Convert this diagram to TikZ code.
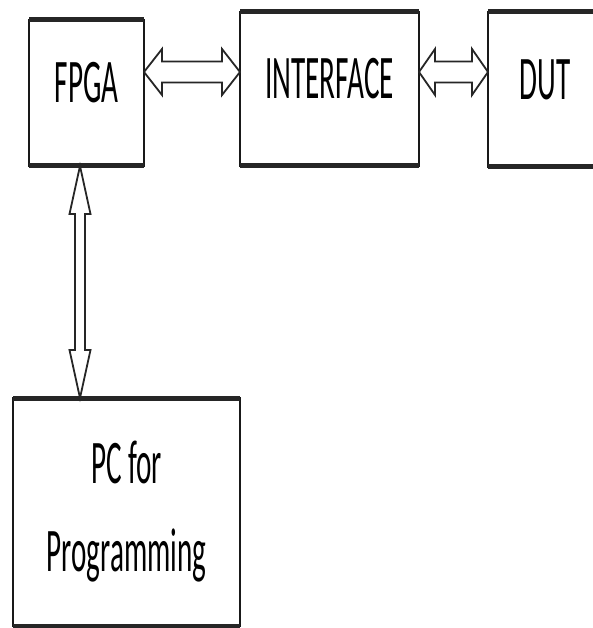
\documentclass[tikz,border=0pt]{standalone}
\usepackage{fontspec}
\newfontfamily\lbl{Carlito}[FakeStretch=0.47]
\usetikzlibrary{calc}
\tikzset{blk/.style={draw=black!90,line width=1.8pt,outer sep=0pt,inner sep=0pt,font=\lbl\fontsize{62}{88}\selectfont},
tag/.style={text height=40pt,text depth=20pt},
rim/.style={draw=black!85,line width=5pt},
link/.style={draw=black!85,line width=1.8pt}}
\newcommand\dblarrow[5]{\draw[link](#1)--($(#1)!#3!(#2)!#4!90:(#2)$)--($(#1)!#3!(#2)!#5!90:(#2)$)
--($(#2)!#3!(#1)!#5!-90:(#1)$)--($(#2)!#3!(#1)!#4!-90:(#1)$)--(#2)
--($(#2)!#3!(#1)!#4!90:(#1)$)--($(#2)!#3!(#1)!#5!90:(#1)$)
--($(#1)!#3!(#2)!#5!-90:(#2)$)--($(#1)!#3!(#2)!#4!-90:(#2)$)--cycle;}
\begin{document}
\begin{tikzpicture}[x=1pt,y=-1pt]
\useasboundingbox(0,0)rectangle(592,628);
\node[blk,tag,minimum width=115pt,minimum height=146pt](fpga)at(86.5,93){FPGA};
\node[blk,tag,minimum width=179pt,minimum height=154pt](iface)at(329.5,89){INTERFACE};
\node[blk,tag,minimum width=114pt,minimum height=155pt](dut)at(545,89.5){DUT};
\node[blk,align=center,minimum width=227pt,minimum height=228pt](pc)at(126.5,512){PC for\\Programming};
\foreach \n in {fpga,iface,dut,pc}
\draw[rim](\n.north west)--(\n.north east)(\n.south west)--(\n.south east);
\coordinate(a1)at([yshift=21pt]fpga.east);
\coordinate(b1)at(a1-|iface.west);
\coordinate(a2)at(iface.east|-a1);
\coordinate(b2)at(a2-|dut.west);
\coordinate(up)at([xshift=-6.5pt]fpga.south);
\coordinate(dn)at(up|-pc.north);
\dblarrow{a1}{b1}{18pt}{23pt}{10.5pt}
\dblarrow{a2}{b2}{16pt}{23pt}{10.5pt}
\dblarrow{up}{dn}{48pt}{10.5pt}{5pt}
\end{tikzpicture}
\end{document}
